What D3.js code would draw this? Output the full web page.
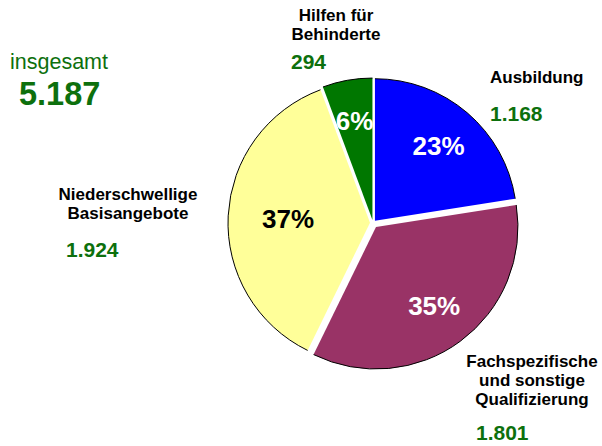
<!DOCTYPE html>
<html>
<head>
<meta charset="utf-8">
<script src="https://cdn.jsdelivr.net/npm/d3@7"></script>
<style>
  html, body { margin: 0; padding: 0; background: #fff; }
  svg { display: block; font-family: "Liberation Sans", Arial, Helvetica, sans-serif; }
</style>
</head>
<body>
<svg id="chart" width="602" height="446"></svg>
<script>
// ---- data ----
const categories = ["Ausbildung", "Fachspezifische und sonstige Qualifizierung", "Niederschwellige Basisangebote", "Hilfen für Behinderte"];
const categoryLines = [["Ausbildung"], ["Fachspezifische", "und sonstige", "Qualifizierung"], ["Niederschwellige", "Basisangebote"], ["Hilfen für", "Behinderte"]];
const values = [1168, 1801, 1924, 294];
const valueLabels = ["1.168", "1.801", "1.924", "294"];
const percentLabels = ["23%", "35%", "37%", "6%"];
const totalLabel = "insgesamt";
const totalValue = "5.187";

// ---- style / layout ----
const colors = ["#0000ff", "#993366", "#ffff99", "#007700"];
const pctColors = ["#ffffff", "#ffffff", "#000000", "#ffffff"];
const explode = [3, 5, 3, 3];
const labelRadius = [98, 98, 82, 101];
const green = "#0d700d";
const cx = 373, cy = 223, r = 142;

// text blocks: anchor x, first baseline, anchor mode, number x, number baseline
const textLayout = [
  { x: 490, y: 83, anchor: "start", nx: 490, ny: 121 },
  { x: 532, y: 367, anchor: "middle", nx: 476, ny: 440 },
  { x: 128, y: 200, anchor: "middle", nx: 66, ny: 257 },
  { x: 336, y: 21, anchor: "middle", nx: 291, ny: 69 }
];
const lineGap = 19;

const svg = d3.select("#chart");

const pie = d3.pie().sort(null).value(d => d)(values);
const arc = d3.arc().innerRadius(0).outerRadius(r);

const g = svg.append("g").attr("transform", `translate(${cx},${cy})`);

pie.forEach((p, i) => {
  const mid = (p.startAngle + p.endAngle) / 2;
  const dx = Math.sin(mid) * explode[i];
  const dy = -Math.cos(mid) * explode[i];
  const sg = g.append("g").attr("transform", `translate(${dx},${dy})`);
  sg.append("path")
    .attr("d", arc(p))
    .attr("fill", colors[i])
    .attr("stroke", "none");
  const pth = d3.path();
  pth.arc(0, 0, r, p.startAngle - Math.PI / 2, p.endAngle - Math.PI / 2);
  sg.append("path")
    .attr("d", pth.toString())
    .attr("fill", "none")
    .attr("stroke", "#000")
    .attr("stroke-width", 1);
  const la = d3.arc().innerRadius(labelRadius[i]).outerRadius(labelRadius[i]);
  const [lx, ly] = la.centroid(p);
  sg.append("text")
    .attr("x", lx)
    .attr("y", ly)
    .attr("text-anchor", "middle")
    .attr("dominant-baseline", "central")
    .attr("font-size", 26)
    .attr("font-weight", "bold")
    .attr("fill", pctColors[i])
    .text(percentLabels[i]);
});

// category labels
categoryLines.forEach((lines, i) => {
  const L = textLayout[i];
  const t = svg.append("text")
    .attr("text-anchor", L.anchor)
    .attr("font-size", 17)
    .attr("font-weight", "bold")
    .attr("fill", "#000");
  lines.forEach((ln, k) => {
    t.append("tspan").attr("x", L.x).attr("y", L.y + k * lineGap).text(ln);
  });
  svg.append("text")
    .attr("x", L.nx)
    .attr("y", L.ny)
    .attr("font-size", 21)
    .attr("font-weight", "bold")
    .attr("fill", green)
    .text(valueLabels[i]);
});

// total
svg.append("text")
  .attr("x", 10).attr("y", 69)
  .attr("font-size", 21.5)
  .attr("fill", green)
  .text(totalLabel);
svg.append("text")
  .attr("x", 19).attr("y", 105)
  .attr("font-size", 32.5)
  .attr("font-weight", "bold")
  .attr("fill", green)
  .text(totalValue);
</script>
</body>
</html>
